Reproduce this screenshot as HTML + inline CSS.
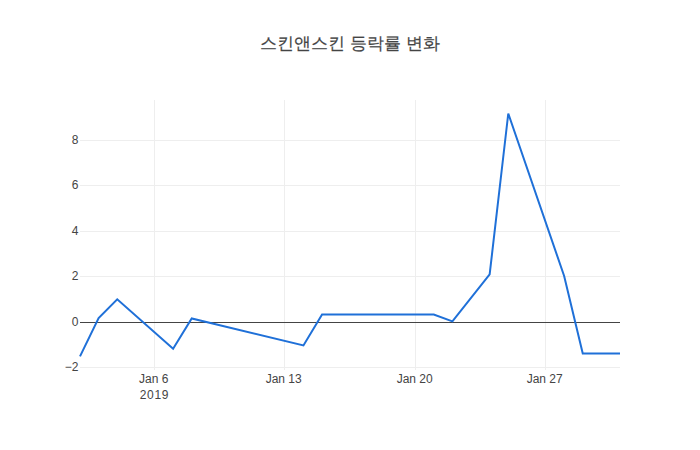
<!DOCTYPE html>
<html><head><meta charset="utf-8"><style>
html,body{margin:0;padding:0;background:#fff;width:700px;height:450px;overflow:hidden}
svg{display:block}
.t{font-family:"Liberation Sans",sans-serif;font-size:12px;fill:#444}
.d{letter-spacing:0.7px}
.title{font-family:"Liberation Sans",sans-serif;font-size:17px;fill:#444;stroke:#444;stroke-width:0.2px}
</style></head><body>
<svg width="700" height="450" viewBox="0 0 700 450">
<path d="M80,140.5H620" stroke="#eee" stroke-width="1" fill="none"/>
<path d="M80,185.5H620" stroke="#eee" stroke-width="1" fill="none"/>
<path d="M80,231.5H620" stroke="#eee" stroke-width="1" fill="none"/>
<path d="M80,276.5H620" stroke="#eee" stroke-width="1" fill="none"/>
<path d="M80,367.5H620" stroke="#eee" stroke-width="1" fill="none"/>
<path d="M154.5,100V370" stroke="#eee" stroke-width="1" fill="none"/>
<path d="M284.5,100V370" stroke="#eee" stroke-width="1" fill="none"/>
<path d="M415.5,100V370" stroke="#eee" stroke-width="1" fill="none"/>
<path d="M545.5,100V370" stroke="#eee" stroke-width="1" fill="none"/>
<path d="M80,322.5H620" stroke="#444" stroke-width="1" fill="none"/>
<polyline points="80.00,356.4 98.62,318 117.24,299.3 173.10,348.8 191.72,318.5 303.45,345.4 322.07,314.5 433.79,314.5 452.41,321.4 489.66,274.4 508.28,113.5 564.14,276 582.76,353.4 620.00,353.4" fill="none" stroke="#1f70d8" stroke-width="2"/>
<text x="78.5" y="144.1" text-anchor="end" class="t">8</text>
<text x="78.5" y="189.1" text-anchor="end" class="t">6</text>
<text x="78.5" y="235.1" text-anchor="end" class="t">4</text>
<text x="78.5" y="280.1" text-anchor="end" class="t">2</text>
<text x="78.5" y="371.1" text-anchor="end" class="t">−2</text>
<text x="78.5" y="326.1" text-anchor="end" class="t">0</text>
<text x="153.7" y="383" text-anchor="middle" class="t">Jan 6</text>
<text x="283.7" y="383" text-anchor="middle" class="t">Jan 13</text>
<text x="414.7" y="383" text-anchor="middle" class="t">Jan 20</text>
<text x="544.7" y="383" text-anchor="middle" class="t">Jan 27</text>
<text x="154.5" y="399" text-anchor="middle" class="t d">2019</text>
<text x="350" y="48.6" text-anchor="middle" class="title">스킨앤스킨 등락률 변화</text>
</svg></body></html>
